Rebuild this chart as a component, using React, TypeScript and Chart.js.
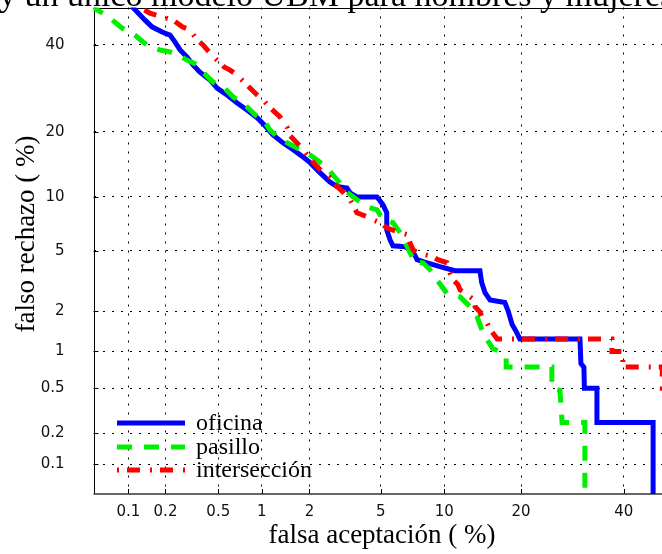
import React, { useEffect, useRef } from "react";
import { Chart, registerables } from "chart.js";

Chart.register(...registerables);

// ---------- data (percent values) ----------
const AXIS_MIN = 0.05; // %
const AXIS_MAX = 50; // %
const TICK_VALUES = [0.1, 0.2, 0.5, 1, 2, 5, 10, 20, 40];
const X_TICK_LABELS = ["0.1", "0.2", "0.5", "1", "2", "5", "10", "20", "40"];
const Y_TICK_LABELS = ["0.1", "0.2", "0.5", "1", "2", "5", "10", "20", "40"];

const TITLE_TEXT = "y un único modelo UBM para hombres y mujeres";
const X_TITLE = "falsa aceptación ( %)";
const Y_TITLE = "falso rechazo ( %)";
const SERIES_NAMES = ["oficina", "pasillo", "intersección"];

// [falsa aceptación %, falso rechazo %]
const oficina: [number, number][] = [
  [0.106, 52], [0.109, 50], [0.137, 46.6], [0.156, 44.8], [0.188, 43.4], [0.217, 42.6],
  [0.237, 40.8], [0.26, 38.7], [0.293, 36.9], [0.326, 34.9], [0.367, 33.1], [0.436, 31.2],
  [0.49, 29.3], [0.577, 27.7], [0.68, 25.9], [0.795, 24.4], [0.93, 22.8], [1.02, 21.6],
  [1.18, 19.5], [1.37, 18.0], [1.59, 16.8], [1.83, 15.6], [2.02, 14.7], [2.31, 13.2],
  [2.64, 11.9], [2.9, 11.3], [3.3, 11.1], [3.43, 10.5], [3.74, 10.0], [4.78, 10.0],
  [5.13, 9.1], [5.36, 8.25], [5.36, 6.64], [5.57, 5.81], [5.76, 5.35], [6.61, 5.28],
  [7.21, 4.93], [7.53, 4.4], [8.38, 4.21], [9.58, 3.98], [11.1, 3.75], [14.07, 3.75],
  [14.3, 3.14], [14.73, 2.69], [15.4, 2.4], [17.5, 2.3], [18.0, 2.0], [18.6, 1.6],
  [19.3, 1.4], [19.8, 1.25], [30.7, 1.25], [30.9, 0.8], [31.5, 0.75], [31.6, 0.5],
  [34.2, 0.5], [34.2, 0.25], [46.6, 0.25], [46.6, 0.01],
];

const pasillo: [number, number][] = [
  [0.048, 51], [0.05, 50], [0.068, 47.4], [0.088, 44.5], [0.113, 42.6], [0.132, 40.8],
  [0.15, 39.5], [0.181, 38.7], [0.217, 38.2], [0.251, 37.4], [0.293, 36.1], [0.352, 34.9],
  [0.387, 33.1], [0.458, 30.7], [0.541, 29.6], [0.636, 27.3], [0.77, 25.5], [0.9, 23.4],
  [1.02, 22.4], [1.13, 20.4], [1.26, 19.1], [1.46, 18.0], [1.68, 17.1], [1.93, 16.3],
  [2.22, 15.1], [2.54, 13.9], [2.9, 12.2], [3.3, 10.6], [3.74, 9.67], [4.24, 8.88],
  [4.78, 8.56], [5.13, 7.55], [5.76, 7.27], [6.46, 6.05], [6.61, 5.6], [7.13, 4.59],
  [7.21, 4.27], [8.03, 4.21], [8.65, 3.8], [9.28, 3.28], [10.28, 2.65], [11.68, 2.52],
  [12.84, 2.15], [13.7, 1.83], [14.47, 1.39], [15.0, 1.23], [15.8, 1.05], [16.8, 1.0],
  [17.7, 0.88], [17.7, 0.75], [25.3, 0.75], [25.3, 0.5], [26.8, 0.48], [27.2, 0.25],
  [31.7, 0.25], [31.7, 0.01],
];

const interseccion: [number, number][] = [
  [0.118, 51], [0.123, 50], [0.15, 48.5], [0.19, 47.4], [0.23, 46.6], [0.27, 44.8],
  [0.309, 44.0], [0.35, 41.3], [0.387, 40.0], [0.436, 37.9], [0.49, 36.1], [0.55, 34.4],
  [0.606, 33.6], [0.68, 32.4], [0.758, 30.7], [0.833, 29.3], [0.93, 27.7], [1.02, 26.6],
  [1.13, 24.9], [1.31, 23.0], [1.46, 20.8], [1.52, 19.3], [1.68, 18.0], [1.83, 16.8],
  [2.02, 15.3], [2.22, 14.1], [2.41, 13.2], [2.64, 12.5], [2.9, 11.3], [3.14, 10.6],
  [3.43, 9.67], [3.6, 8.88], [3.74, 8.25], [4.24, 7.85], [4.56, 7.55], [4.96, 7.27],
  [5.36, 6.81], [6.05, 6.46], [6.79, 6.22], [6.97, 5.58], [7.21, 5.06], [7.53, 4.86],
  [8.92, 4.59], [9.38, 4.4], [10.28, 4.21], [10.58, 3.64], [10.9, 3.28], [11.45, 3.04],
  [11.68, 2.81], [12.0, 2.73], [13.3, 2.41], [13.46, 2.15], [14.07, 1.98], [14.47, 1.74],
  [15.0, 1.65], [15.41, 1.47], [16.4, 1.25], [37.4, 1.25], [37.4, 1.0], [39.8, 1.0],
  [39.8, 0.75], [48.7, 0.75], [48.7, 0.5], [50, 0.5],
];

// ---------- helpers ----------
function probit(p: number): number {
  const a = [-3.969683028665376e1, 2.209460984245205e2, -2.759285104469687e2, 1.38357751867269e2, -3.066479806614716e1, 2.506628277459239];
  const b = [-5.447609879822406e1, 1.615858368580409e2, -1.556989798598866e2, 6.680131188771972e1, -1.328068155288572e1];
  const c = [-7.784894002430293e-3, -3.223964580411365e-1, -2.400758277161838, -2.549732539343734, 4.374664141464968, 2.938163982698783];
  const d = [7.784695709041462e-3, 3.224671290700398e-1, 2.445134137142996, 3.754408661907416];
  const pl = 0.02425;
  if (p < pl) {
    const q = Math.sqrt(-2 * Math.log(p));
    return (((((c[0] * q + c[1]) * q + c[2]) * q + c[3]) * q + c[4]) * q + c[5]) / ((((d[0] * q + d[1]) * q + d[2]) * q + d[3]) * q + 1);
  }
  if (p <= 1 - pl) {
    const q = p - 0.5;
    const r = q * q;
    return ((((((a[0] * r + a[1]) * r + a[2]) * r + a[3]) * r + a[4]) * r + a[5]) * q) / (((((b[0] * r + b[1]) * r + b[2]) * r + b[3]) * r + b[4]) * r + 1);
  }
  const q = Math.sqrt(-2 * Math.log(1 - p));
  return -(((((c[0] * q + c[1]) * q + c[2]) * q + c[3]) * q + c[4]) * q + c[5]) / ((((d[0] * q + d[1]) * q + d[2]) * q + d[3]) * q + 1);
}

const toPoints = (arr: [number, number][]) => arr.map(([fa, fr]) => ({ x: probit(fa / 100), y: probit(fr / 100) }));

const COLORS = ["#0000ff", "#00ee00", "#ff0000"];
const DASHES: number[][] = [[], [15, 12], [2, 8, 13, 10]];
const LINE_W = 5;

const TICK_FONT = { family: "'DejaVu Sans', sans-serif", size: 15 };
const SERIF = "'Liberation Serif', serif";

const decorPlugin = {
  id: "decor",
  beforeDraw(chart: any) {
    const ctx = chart.ctx as CanvasRenderingContext2D;
    ctx.save();
    ctx.fillStyle = "#000";
    ctx.font = `34px ${SERIF}`;
    ctx.textAlign = "left";
    ctx.textBaseline = "alphabetic";
    ctx.fillText(TITLE_TEXT, -1, 6);
    ctx.restore();
  },
  beforeDatasetsDraw(chart: any) {
    const ctx = chart.ctx as CanvasRenderingContext2D;
    const { left, right, top, bottom } = chart.chartArea;
    const xs = chart.scales.x;
    const ys = chart.scales.y;
    ctx.save();
    ctx.strokeStyle = "#000";
    ctx.lineWidth = 1;
    ctx.beginPath();
    ctx.moveTo(left, Math.round(top) + 0.5);
    ctx.lineTo(right, Math.round(top) + 0.5);
    ctx.moveTo(Math.round(left) + 0.5, top);
    ctx.lineTo(Math.round(left) + 0.5, bottom);
    // inward ticks
    TICK_VALUES.forEach((v) => {
      const py = Math.round(ys.getPixelForValue(probit(v / 100))) + 0.5;
      ctx.moveTo(left, py);
      ctx.lineTo(left + 5, py);
      const px = Math.round(xs.getPixelForValue(probit(v / 100))) + 0.5;
      ctx.moveTo(px, bottom);
      ctx.lineTo(px, bottom - 5);
    });
    ctx.stroke();
    ctx.strokeStyle = "#333";
    ctx.lineWidth = 1.5;
    ctx.beginPath();
    ctx.moveTo(left, bottom);
    ctx.lineTo(right, bottom);
    ctx.stroke();
    ctx.restore();
  },
  afterDraw(chart: any) {
    const ctx = chart.ctx as CanvasRenderingContext2D;
    ctx.save();
    ctx.fillStyle = "#000";
    // axis titles
    ctx.font = `27px ${SERIF}`;
    ctx.textAlign = "center";
    ctx.textBaseline = "alphabetic";
    ctx.fillText(X_TITLE, 382, 543);
    ctx.save();
    ctx.translate(34, 234);
    ctx.rotate(-Math.PI / 2);
    ctx.fillText(Y_TITLE, 0, 0);
    ctx.restore();
    // legend
    const rows = [423, 447, 470];
    SERIES_NAMES.forEach((name, i) => {
      const y = rows[i];
      ctx.save();
      ctx.strokeStyle = COLORS[i];
      ctx.lineWidth = LINE_W;
      ctx.lineCap = "butt";
      ctx.setLineDash(DASHES[i]);
      ctx.beginPath();
      ctx.moveTo(117, y);
      ctx.lineTo(185, y);
      ctx.stroke();
      ctx.restore();
      ctx.font = `24px ${SERIF}`;
      ctx.textAlign = "left";
      ctx.fillText(name, 196, y + 7);
    });
    ctx.restore();
  },
};

export default function App() {
  const ref = useRef<HTMLCanvasElement>(null);
  useEffect(() => {
    const canvas = ref.current;
    if (!canvas) return;
    const series = [oficina, pasillo, interseccion];
    const chart = new Chart(canvas, {
      type: "line",
      data: {
        datasets: series.map((s, i) => ({
          label: SERIES_NAMES[i],
          data: toPoints(s),
          borderColor: COLORS[i],
          backgroundColor: COLORS[i],
          borderWidth: LINE_W,
          borderDash: DASHES[i],
          borderCapStyle: "butt",
          borderJoinStyle: "miter",
          pointRadius: 0,
          tension: 0,
          fill: false,
          clip: 0,
          order: 3 - i,
        })),
      },
      options: {
        animation: false,
        responsive: false,
        devicePixelRatio: 1,
        events: [],
        layout: { autoPadding: false, padding: { left: 0, right: 12, top: 7.5, bottom: 0 } },
        plugins: { legend: { display: false }, tooltip: { enabled: false }, title: { display: false } },
        scales: {
          x: {
            type: "linear",
            min: probit(AXIS_MIN / 100),
            max: probit(AXIS_MAX / 100),
            afterBuildTicks: (s: any) => {
              s.ticks = TICK_VALUES.map((v) => ({ value: probit(v / 100) }));
            },
            afterFit: (s: any) => {
              s.height = 60;
              s.paddingLeft = 0;
              s.paddingRight = 0;
              s.paddingTop = 0;
              s.paddingBottom = 0;
            },
            ticks: {
              callback: (_v: any, i: number) => X_TICK_LABELS[i],
              font: TICK_FONT,
              color: "#111",
              padding: 9,
              maxRotation: 0,
              autoSkip: false,
            },
            grid: { color: "#000", lineWidth: 1, drawTicks: false },
            border: { display: false, dash: [2, 7] },
          },
          y: {
            type: "linear",
            min: probit(AXIS_MIN / 100),
            max: probit(AXIS_MAX / 100),
            afterBuildTicks: (s: any) => {
              s.ticks = TICK_VALUES.map((v) => ({ value: probit(v / 100) }));
            },
            afterFit: (s: any) => {
              s.width = 93.5;
              s.paddingLeft = 0;
              s.paddingRight = 0;
              s.paddingTop = 0;
              s.paddingBottom = 0;
            },
            ticks: {
              callback: (_v: any, i: number) => Y_TICK_LABELS[i],
              font: TICK_FONT,
              color: "#111",
              padding: 29,
              autoSkip: false,
            },
            grid: { color: "#000", lineWidth: 1, drawTicks: false },
            border: { display: false, dash: [2, 7] },
          },
        },
      },
      plugins: [decorPlugin],
    } as any);
    return () => chart.destroy();
  }, []);

  return (
    <div style={{ position: "fixed", left: 0, top: 0, width: 662, height: 554, overflow: "hidden", background: "#fff" }}>
      <canvas ref={ref} width={680} height={554} style={{ display: "block", width: 680, height: 554 }} />
    </div>
  );
}
